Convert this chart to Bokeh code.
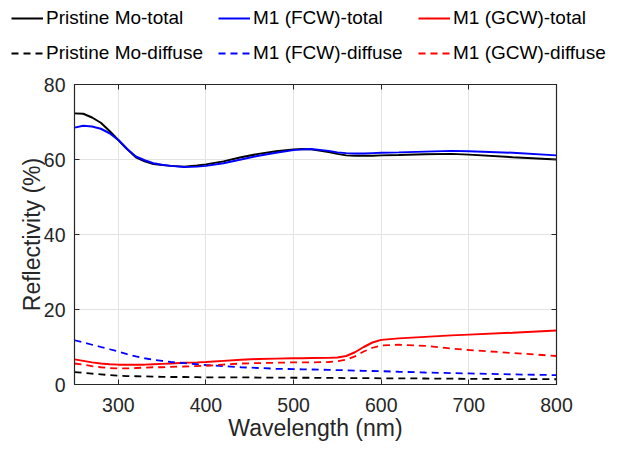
from bokeh.plotting import figure
from bokeh.models import Legend, LegendItem, LinearAxis, Range1d, FixedTicker
from bokeh.layouts import column
from bokeh.embed import file_html
from bokeh.resources import INLINE

wavelength = [250, 260, 270, 280, 290, 300, 310, 320, 330, 340, 350, 360, 375, 390, 400,
              420, 440, 460, 480, 500, 510, 520, 540, 550, 560, 570, 580, 590, 600,
              620, 650, 680, 700, 750, 800]

pristine_total = [72.3, 72.2, 71.2, 69.8, 67.6, 65.2, 62.8, 60.6, 59.5, 58.8, 58.5, 58.3, 58.1, 58.4, 58.7,
                  59.5, 60.6, 61.5, 62.2, 62.7, 62.8, 62.7, 62.0, 61.5, 61.1, 61.0, 61.0, 61.0, 61.1,
                  61.2, 61.4, 61.5, 61.3, 60.6, 60.0]
fcw_total = [68.5, 69.0, 68.8, 68.2, 67.0, 65.2, 62.8, 60.8, 59.8, 59.0, 58.6, 58.3, 58.0, 58.1, 58.3,
             59.0, 60.0, 61.0, 61.8, 62.5, 62.7, 62.8, 62.3, 61.9, 61.7, 61.6, 61.6, 61.7, 61.8,
             61.9, 62.1, 62.3, 62.2, 61.8, 61.1]
gcw_total = [6.7, 6.3, 5.9, 5.6, 5.4, 5.3, 5.3, 5.3, 5.3, 5.4, 5.5, 5.6, 5.8, 5.9, 6.0,
             6.3, 6.6, 6.8, 6.9, 7.0, 7.0, 7.05, 7.1, 7.2, 7.6, 8.6, 10.0, 11.2, 11.9,
             12.3, 12.7, 13.1, 13.3, 13.8, 14.4]
pristine_diffuse = [3.3, 3.1, 2.9, 2.7, 2.5, 2.35, 2.25, 2.2, 2.15, 2.1, 2.05, 2.0, 2.0, 1.95, 1.9,
                    1.9, 1.9, 1.85, 1.85, 1.8, 1.8, 1.8, 1.75, 1.75, 1.7, 1.7, 1.7, 1.7, 1.65,
                    1.65, 1.6, 1.55, 1.5, 1.45, 1.4]
fcw_diffuse = [11.8, 11.2, 10.6, 10.0, 9.4, 8.8, 8.1, 7.5, 7.0, 6.6, 6.3, 6.0, 5.7, 5.4, 5.2,
               4.9, 4.6, 4.4, 4.2, 4.1, 4.05, 4.0, 3.9, 3.85, 3.8, 3.7, 3.65, 3.6, 3.55,
               3.4, 3.2, 3.05, 2.95, 2.7, 2.5]
gcw_diffuse = [5.6, 5.3, 4.9, 4.6, 4.4, 4.3, 4.3, 4.4, 4.5, 4.6, 4.6, 4.7, 4.8, 4.9, 5.0,
               5.3, 5.6, 5.7, 5.8, 5.9, 5.9, 5.9, 6.0, 6.2, 6.6, 7.5, 8.8, 9.8, 10.4,
               10.6, 10.3, 9.6, 9.2, 8.4, 7.6]

series_labels = ["Pristine Mo-total", "M1 (FCW)-total", "M1 (GCW)-total",
                 "Pristine Mo-diffuse", "M1 (FCW)-diffuse", "M1 (GCW)-diffuse"]

x_ticks = [300, 400, 500, 600, 700, 800]
y_ticks = [0, 20, 40, 60, 80]

FONT = "Liberation Sans"
AX = "#262626"
colors = ["black", "#0000ff", "#ff0000", "black", "#0000ff", "#ff0000"]
dashes = ["solid", "solid", "solid", "7 5", "7 5", "7 5"]
series = [pristine_total, fcw_total, gcw_total, pristine_diffuse, fcw_diffuse, gcw_diffuse]

W = 612

# ---- main plot ----
p = figure(width=W, height=373, output_backend="svg", toolbar_location=None,
           x_range=Range1d(250, 800), y_range=Range1d(0, 80),
           min_border_left=74, min_border_right=W - 74 - 482, min_border_top=14, min_border_bottom=59,
           outline_line_color=AX, outline_line_width=1.2)
p.frame_align = False
p.background_fill_color = "white"
p.border_fill_color = "white"

for ys, c, d in zip(series, colors, dashes):
    p.line(wavelength, ys, line_color=c, line_width=2 if d == "solid" else 1.8, line_dash=d)

for ax in [p.xaxis[0], p.yaxis[0]]:
    ax.axis_line_color = AX
    ax.major_tick_line_color = AX
    ax.major_tick_in = 5
    ax.major_tick_out = 0
    ax.minor_tick_line_color = None
    ax.major_label_text_font = FONT
    ax.major_label_text_font_size = "19.5px"
    ax.major_label_text_color = AX
    ax.axis_label_text_font = FONT
    ax.axis_label_text_font_size = "23px"
    ax.axis_label_text_font_style = "normal"
    ax.axis_label_text_color = AX

p.xaxis[0].ticker = FixedTicker(ticks=x_ticks)
p.yaxis[0].ticker = FixedTicker(ticks=y_ticks)
p.xaxis[0].axis_label = "Wavelength (nm)"
p.yaxis[0].axis_label = "Reflectivity (%)"
p.xaxis[0].major_label_standoff = 13
p.xaxis[0].axis_label_standoff = 0
p.yaxis[0].major_label_standoff = 9
p.yaxis[0].axis_label_standoff = -4

p.xgrid.ticker = FixedTicker(ticks=x_ticks)
p.ygrid.ticker = FixedTicker(ticks=y_ticks)
p.grid.grid_line_color = "#e3e3e3"
p.grid.grid_line_width = 1

# mirrored ticks on top and right
top_ax = LinearAxis(ticker=FixedTicker(ticks=x_ticks), major_label_text_font_size="1px",
                    major_label_text_alpha=0,
                    major_tick_in=5, major_tick_out=0, minor_tick_line_color=None,
                    axis_line_color=AX, major_tick_line_color=AX, major_label_standoff=0)
right_ax = LinearAxis(ticker=FixedTicker(ticks=y_ticks), major_label_text_font_size="1px",
                      major_label_text_alpha=0,
                      major_tick_in=5, major_tick_out=0, minor_tick_line_color=None,
                      axis_line_color=AX, major_tick_line_color=AX, major_label_standoff=0)
p.add_layout(right_ax, "right")
p.add_layout(top_ax, "above")

# ---- legend strip (same series drawn out of view, used only for the legend) ----
lf = figure(width=W, height=70, output_backend="svg", toolbar_location=None,
            x_range=Range1d(250, 800), y_range=Range1d(1000, 1001),
            x_axis_location=None, y_axis_location=None,
            min_border=0, outline_line_color=None)
lf.frame_align = False
lf.grid.visible = False
lf.border_fill_color = "white"
lf.background_fill_color = "white"

items = []
for lab, ys, c, d in zip(series_labels, series, colors, dashes):
    r = lf.line(wavelength, ys, line_color=c, line_width=2 if d == "solid" else 1.8, line_dash=d)
    items.append(LegendItem(label=lab, renderers=[r]))

col_x = [11, 218, 418]
for k in range(3):
    lg = Legend(items=[items[k], items[k + 3]], location=(col_x[k], 6))
    lg.orientation = "vertical"
    lg.label_text_font = FONT
    lg.label_text_font_size = "19px"
    lg.label_text_color = "black"
    lg.label_height = 20
    lg.label_standoff = 3
    lg.glyph_width = 32
    lg.glyph_height = 20
    lg.spacing = 13
    lg.padding = 0
    lg.margin = 0
    lg.border_line_color = None
    lg.background_fill_alpha = 0
    lf.add_layout(lg)

layout = column(lf, p, spacing=0)
open("out.html", "w").write(file_html(layout, INLINE))
